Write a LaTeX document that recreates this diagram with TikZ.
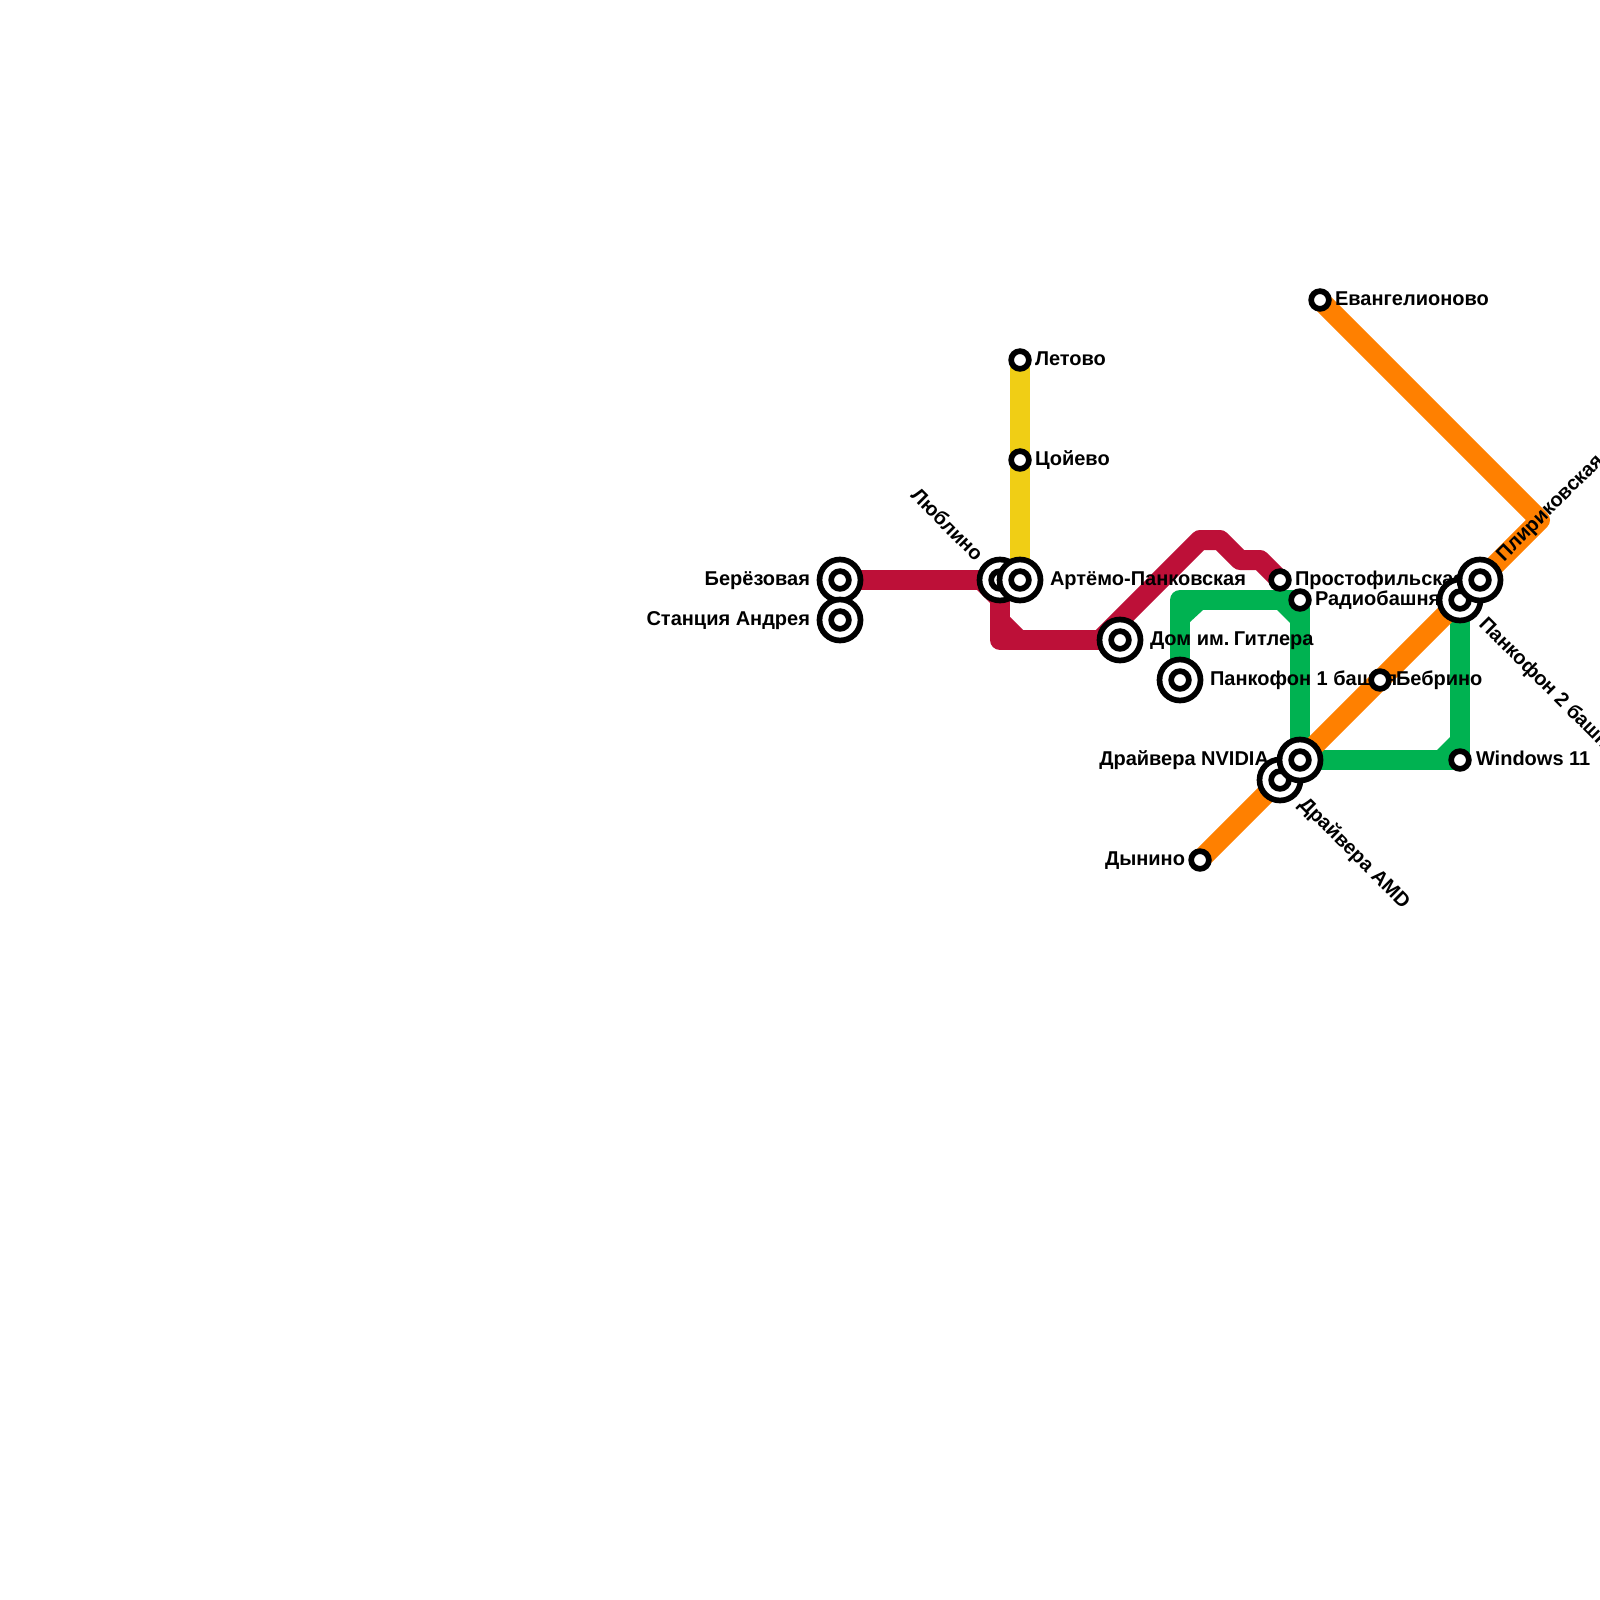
\documentclass[tikz,border=0pt]{standalone}
\usepackage{fontspec}
\setmainfont{Liberation Sans}[BoldFont={Liberation Sans Bold}]
\definecolor{lred}{HTML}{BD1038}
\definecolor{lyellow}{HTML}{F0CE15}
\definecolor{lgreen}{HTML}{00B251}
\definecolor{lorange}{HTML}{FF8000}
\pgfdeclarelayer{lines}
\pgfdeclarelayer{labels}
\pgfsetlayers{lines,labels,main}
\tikzset{
  x=1pt,y=-1pt,
  metro/.style={line width=20pt,line join=round,line cap=round},
  big/.style={circle,draw=black,fill=white,line width=5.7pt,minimum size=41pt,inner sep=0pt,outer sep=0pt},
  small/.style={circle,draw=black,fill=white,line width=5.7pt,minimum size=17.7pt,inner sep=0pt,outer sep=0pt},
  lab/.style={inner sep=0pt,outer sep=0pt,text=black,font=\fontsize{20}{22}\selectfont\bfseries},
  labl/.style={lab,anchor=base west},
  labr/.style={lab,anchor=base east},
}
\begin{document}
\begin{tikzpicture}
\useasboundingbox (0,0) rectangle (1600,1600);
% stations
\newcommand{\bigst}[2]{\node[big] (#1) at #2 {}; \node[small] at #2 {};}
\bigst{berez}{(840,580)}
\bigst{andrey}{(840,620)}
\bigst{lyub}{(1000,580)}
\bigst{artem}{(1020,580)}
\node[small] (letovo) at (1020,360) {};
\node[small] (tsoi) at (1020,460) {};
\bigst{dom}{(1120,640)}
\bigst{pank1}{(1180,680)}
\node[small] (prost) at (1280,580) {};
\node[small] (radio) at (1300,600) {};
\node[small] (evang) at (1320,300) {};
\node[small] (bebr) at (1380,680) {};
\node[small] (dyn) at (1200,860) {};
\node[small] (win) at (1460,760) {};
\bigst{amd}{(1280,780)}
\bigst{nvidia}{(1300,760)}
\bigst{pank2}{(1460,600)}
\bigst{plir}{(1480,580)}
% bends
\coordinate (r1) at (1000,640);
\coordinate (r2) at (1100,640);
\coordinate (r3) at (1200,540);
\coordinate (r4) at (1220,540);
\coordinate (r5) at (1240,560);
\coordinate (r6) at (1260,560);
\coordinate (g1) at (1180,600);
\coordinate (o1) at (1540,520);
\begin{pgfonlayer}{lines}
\fill[white] (0,0) rectangle (1600,1600);
\draw[metro,lyellow] (letovo.center) -- (tsoi.center) -- (artem.center);
\draw[metro,lgreen] (pank1.center) -- (g1) -- (radio.center) -- (nvidia.center);
\draw[metro,lgreen] (nvidia.center) -- (win.center) -- (pank2.center);
\fill[lgreen] (1190,622) -- (1190,610) -- (1203,610) -- cycle;
\fill[lgreen] (1277,610) -- (1290,610) -- (1290,623) -- cycle;
\fill[lgreen] (1437,750) -- (1450,750) -- (1450,737) -- cycle;
\draw[metro,lred] (berez.center) -- (lyub.center) -- (r1) -- (dom.center);
\draw[metro,lred] (dom.center) -- (r2) -- (r3) -- (r4) -- (r5) -- (r6) -- (prost.center);
\fill[lred] (1010,617) -- (1010,630) -- (1023,630) -- cycle;
\fill[lred] (977,590) -- (990,590) -- (990,603) -- cycle;
\draw[metro,lorange] (dyn.center) -- (bebr.center) -- (pank2.center);
\draw[metro,lorange] (evang.center) -- (o1) -- (plir.center);
\end{pgfonlayer}
\begin{pgfonlayer}{labels}
\node[labr] (tberez) at (810,585) {Берёзовая};
\node[labr] (tandrey) at (810,625) {Станция Андрея};
\node[labr,rotate=-45] (tlyub) at (975,562) {Люблино};
\node[labl] (tartem) at (1050,585) {Артёмо-Панковская};
\node[labl] (tletovo) at (1035,365) {Летово};
\node[labl] (ttsoi) at (1035,465) {Цойево};
\node[labl] (tdom) at (1150,645) {Дом им.\kern-3pt{} Гитлера};
\node[labl] (tpank1) at (1210,685) {Панкофон 1 башня};
\node[labl] (tprost) at (1295,585) {Простофильская};
\node[labl] (tradio) at (1315,605) {Радиобашня};
\node[labl] (tevang) at (1335,305) {Евангелионово};
\node[labl] (tbebr) at (1396,685) {Бебрино};
\node[labl] (twin) at (1476,765) {Windows 11};
\node[labr] (tnvidia) at (1269,765) {Драйвера NVIDIA};
\node[labr] (tdyn) at (1185,865) {Дынино};
\node[labl,rotate=45] (tplir) at (1504,562) {Плириковская};
\node[labl,rotate=-45] (tpank2) at (1478,625) {Панкофон 2 башня};
\node[labl,rotate=-45] (tamd) at (1298,805) {Драйвера AMD};
\end{pgfonlayer}
\end{tikzpicture}
\end{document}
